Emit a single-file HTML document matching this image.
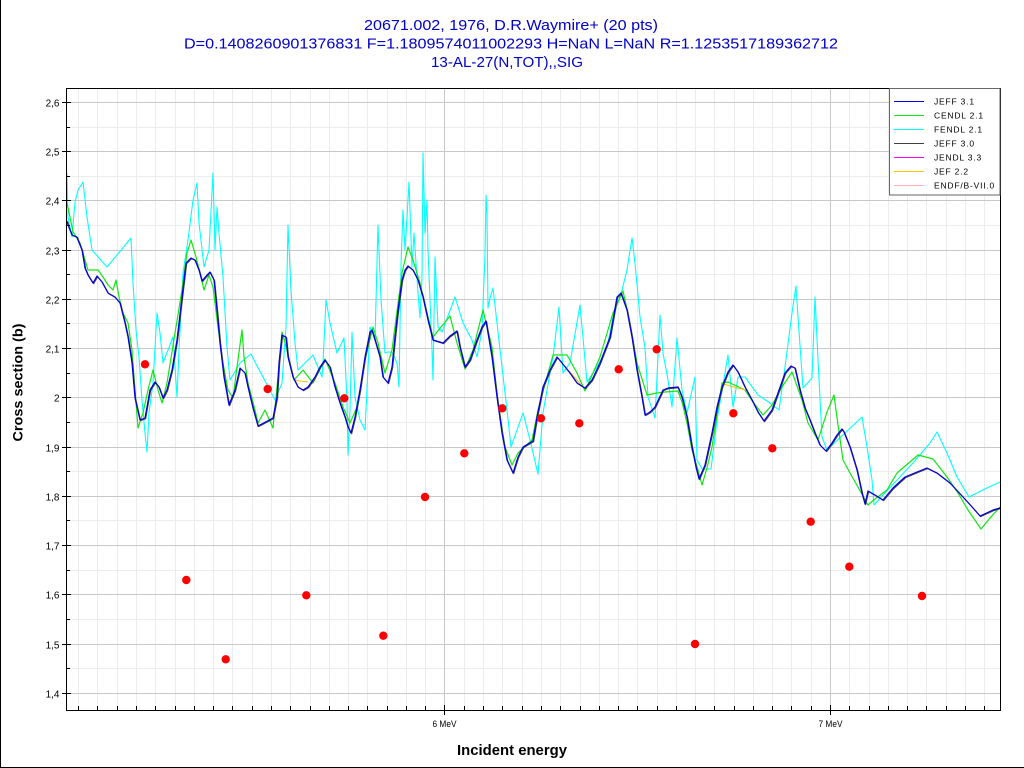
<!DOCTYPE html>
<html><head><meta charset="utf-8"><style>
html,body{margin:0;padding:0;background:#fff;}
svg{display:block;}
text{font-family:"Liberation Sans",Arial,sans-serif;}
</style></head><body>
<svg width="1024" height="768" viewBox="0 0 1024 768" xmlns="http://www.w3.org/2000/svg">
<rect x="0" y="0" width="1024" height="768" fill="#fff"/>
<line x1="0.5" y1="0" x2="0.5" y2="768" stroke="#000" stroke-width="1"/>
<line x1="0" y1="767.5" x2="1024" y2="767.5" stroke="#000" stroke-width="1"/>

<!-- title -->
<text x="511" y="30" font-size="15" fill="#0000c8" text-anchor="middle" textLength="294" lengthAdjust="spacingAndGlyphs">20671.002, 1976, D.R.Waymire+ (20 pts)</text>
<text x="511" y="48.5" font-size="15" fill="#0000c8" text-anchor="middle" textLength="654" lengthAdjust="spacingAndGlyphs">D=0.1408260901376831 F=1.1809574011002293 H=NaN L=NaN R=1.1253517189362712</text>
<text x="507" y="67" font-size="15" fill="#0000c8" text-anchor="middle" textLength="152" lengthAdjust="spacingAndGlyphs">13-AL-27(N,TOT),,SIG</text>

<!-- minor grid -->
<g stroke="#ececec" stroke-width="1" shape-rendering="crispEdges" fill="none">
<path d="M78.5 88V710M97.5 88V710M117.5 88V710M136.5 88V710M155.5 88V710M175.5 88V710M194.5 88V710M213.5 88V710M232.5 88V710M252.5 88V710M271.5 88V710M290.5 88V710M310.5 88V710M329.5 88V710M348.5 88V710M367.5 88V710M387.5 88V710M406.5 88V710M425.5 88V710M464.5 88V710M483.5 88V710M502.5 88V710M522.5 88V710M541.5 88V710M560.5 88V710M580.5 88V710M599.5 88V710M618.5 88V710M637.5 88V710M657.5 88V710M676.5 88V710M695.5 88V710M714.5 88V710M734.5 88V710M753.5 88V710M772.5 88V710M791.5 88V710M811.5 88V710M849.5 88V710M869.5 88V710M888.5 88V710M907.5 88V710M926.5 88V710M946.5 88V710M965.5 88V710M984.5 88V710"/>
<path d="M66 127.5H1000M66 176.5H1000M66 225.5H1000M66 274.5H1000M66 323.5H1000M66 373.5H1000M66 422.5H1000M66 471.5H1000M66 520.5H1000M66 570.5H1000M66 619.5H1000M66 668.5H1000"/>
</g>
<!-- major grid -->
<g stroke="#c8c8c8" stroke-width="1" shape-rendering="crispEdges" fill="none">
<path d="M444.5 88V710M830.5 88V710"/>
<path d="M66 102.5H1000M66 151.5H1000M66 200.5H1000M66 250.5H1000M66 299.5H1000M66 348.5H1000M66 397.5H1000M66 447.5H1000M66 496.5H1000M66 545.5H1000M66 594.5H1000M66 644.5H1000M66 693.5H1000"/>
</g>

<!-- series -->
<g fill="none" stroke-linejoin="round">
<polyline stroke="#00ffff" stroke-width="1.1" points="67,173 68,217 72,237 75,202 78,190 83,182 87,217 92,250 107,267 131,238 133,283 136,330 139,357 142,400 145,433 147,452 149,413 153,383 157,313 160,333 163,363 168,350 173,337 177,397 179,350 183,273 188,240 193,200 197,183 199,223 204,267 209,250 213,173 215,250 217,207 219,233 223,277 227,347 230,380 240,363 251,354 255,362 263,377 275,400 282,383 286,327 288,225 291,290 295,343 298,370 313,355 322,377 323,363 326,300 330,323 337,353 344,338 347,400 348,455 350,410 352,332 355,397 360,420 365,430 370,327 375,340 378,225 381,300 385,353 388,352 392,352 397,363 399,387 401,265 403,210 405,250 407,217 409,182 412,267 414,233 418,293 420,318 422,277 423,153 425,233 427,200 428,250 432,350 433,380 435,257 438,327 442,332 455,297 463,323 472,340 477,357 482,330 485,255 486,195 487,213 488,308 490,298 493,288 497,323 502,367 507,410 511,447 517,430 523,413 530,440 538,474 543,413 550,373 553,357 559,307 561,340 563,373 570,363 580,305 587,382 597,367 607,348 613,317 622,290 627,270 632,238 635,263 640,317 645,348 648,397 655,418 660,315 663,353 668,380 672,407 677,338 682,390 687,413 695,377 697,460 702,469 711,469 717,420 725,373 728,355 733,407 738,377 745,377 758,395 770,403 779,410 785,367 792,313 796,286 798,317 803,388 812,378 815,297 818,360 822,437 827,450 862,417 867,447 872,480 874,505 883,495 897,480 913,463 930,443 937,432 947,453 957,477 969,497 987,488 1000,482"/>
<polyline stroke="#11e611" stroke-width="1.2" points="67,203 70,217 73,232 80,243 88,270 98,270 103,277 108,285 113,290 116,280 119,297 123,313 128,323 132,350 135,390 138,428 143,413 148,390 153,370 158,390 162,403 167,383 175,333 182,290 187,253 191,240 196,257 200,273 204,290 209,275 213,287 218,327 223,363 228,390 233,398 237,367 242,330 244,357 248,383 255,410 258,423 265,410 273,428 278,377 282,332 287,350 294,380 303,370 313,383 325,359 335,383 343,407 350,423 357,407 365,360 373,327 378,343 385,373 392,350 402,273 408,247 413,260 420,283 428,317 433,337 450,316 457,343 465,369 473,350 483,310 486,323 492,347 498,403 505,447 512,465 518,453 532,440 538,410 547,377 553,355 567,355 577,373 585,391 600,357 613,313 623,291 630,323 637,363 647,395 657,393 665,392 678,391 682,402 687,423 692,450 698,470 702,485 707,468 712,447 722,383 728,382 745,390 753,402 763,415 772,405 782,387 792,372 802,400 808,423 818,440 827,412 834,395 838,425 843,460 850,473 858,487 868,505 875,499 887,490 897,473 918,455 933,459 947,477 958,493 968,510 981,529 990,518 1000,507"/>
<polyline stroke="#ffc000" stroke-width="1" points="293,380 308,382"/>
<polyline stroke="#ffc000" stroke-width="1" points="568,370 583,387"/>
<polyline stroke="#ffc000" stroke-width="1" points="723,384 745,390"/>
<polyline transform="translate(0.7,0.7)" stroke="#404040" stroke-width="1" points="67,221 68,225 72,235 77,237 78,240 82,250 85,268 88,275 93,283 97,276 102,282 108,293 115,297 120,303 125,323 128,337 132,363 135,398 140,420 145,418 150,390 155,382 159,387 163,398 167,390 172,370 177,340 182,297 186,263 191,258 195,260 199,270 202,281 207,275 210,272 214,280 217,310 220,343 224,377 229,405 235,390 240,368 245,373 248,387 253,408 258,426 273,418 277,397 279,363 282,335 286,337 288,357 293,377 298,387 303,390 308,387 315,377 320,367 325,360 330,367 335,387 340,403 345,417 348,427 351,433 355,417 360,390 365,357 370,332 372,330 375,340 380,357 383,377 388,383 392,367 395,337 398,310 402,280 405,270 408,266 413,270 418,280 423,297 428,320 433,340 443,343 450,336 457,331 460,347 465,367 470,360 477,340 482,327 486,321 488,333 492,357 497,397 502,433 507,460 513,473 518,457 523,447 533,441 537,417 543,387 550,370 557,357 562,363 570,373 577,383 585,388 592,380 600,363 610,337 617,297 621,293 627,310 632,337 637,370 642,397 645,415 650,412 655,407 663,390 668,388 678,387 682,397 687,417 692,447 696,467 699,479 705,465 712,433 717,407 722,387 728,372 733,365 738,372 745,387 752,400 758,412 764,421 772,410 778,393 785,373 791,366 795,368 800,390 805,408 810,420 815,433 820,445 826,451 832,443 837,435 842,429 844,432 850,447 857,470 862,493 865,504 868,491 875,495 883,500 893,488 905,477 917,472 927,468 937,473 950,483 963,497 973,508 980,516 993,510 1000,508"/>
<polyline stroke="#0000dd" stroke-width="1.2" points="67,221 68,225 72,235 77,237 78,240 82,250 85,268 88,275 93,283 97,276 102,282 108,293 115,297 120,303 125,323 128,337 132,363 135,398 140,420 145,418 150,390 155,382 159,387 163,398 167,390 172,370 177,340 182,297 186,263 191,258 195,260 199,270 202,281 207,275 210,272 214,280 217,310 220,343 224,377 229,405 235,390 240,368 245,373 248,387 253,408 258,426 273,418 277,397 279,363 282,335 286,337 288,357 293,377 298,387 303,390 308,387 315,377 320,367 325,360 330,367 335,387 340,403 345,417 348,427 351,433 355,417 360,390 365,357 370,332 372,330 375,340 380,357 383,377 388,383 392,367 395,337 398,310 402,280 405,270 408,266 413,270 418,280 423,297 428,320 433,340 443,343 450,336 457,331 460,347 465,367 470,360 477,340 482,327 486,321 488,333 492,357 497,397 502,433 507,460 513,473 518,457 523,447 533,441 537,417 543,387 550,370 557,357 562,363 570,373 577,383 585,388 592,380 600,363 610,337 617,297 621,293 627,310 632,337 637,370 642,397 645,415 650,412 655,407 663,390 668,388 678,387 682,397 687,417 692,447 696,467 699,479 705,465 712,433 717,407 722,387 728,372 733,365 738,372 745,387 752,400 758,412 764,421 772,410 778,393 785,373 791,366 795,368 800,390 805,408 810,420 815,433 820,445 826,451 832,443 837,435 842,429 844,432 850,447 857,470 862,493 865,504 868,491 875,495 883,500 893,488 905,477 917,472 927,468 937,473 950,483 963,497 973,508 980,516 993,510 1000,508"/>
</g>

<!-- data points -->
<g fill="#ff0000">
<circle cx="145" cy="364.3" r="4.2"/>
<circle cx="186.3" cy="580" r="4.2"/>
<circle cx="225.7" cy="659.3" r="4.2"/>
<circle cx="267.7" cy="389" r="4.2"/>
<circle cx="306.3" cy="595.3" r="4.2"/>
<circle cx="344.3" cy="398.3" r="4.2"/>
<circle cx="383.3" cy="635.7" r="4.2"/>
<circle cx="425" cy="497" r="4.2"/>
<circle cx="464.3" cy="453.3" r="4.2"/>
<circle cx="502.3" cy="408.3" r="4.2"/>
<circle cx="541" cy="418.3" r="4.2"/>
<circle cx="579.3" cy="423.3" r="4.2"/>
<circle cx="618.7" cy="369.3" r="4.2"/>
<circle cx="656.7" cy="349.3" r="4.2"/>
<circle cx="695" cy="644" r="4.2"/>
<circle cx="733.3" cy="413.3" r="4.2"/>
<circle cx="772.3" cy="448.3" r="4.2"/>
<circle cx="810.7" cy="521.7" r="4.2"/>
<circle cx="849.3" cy="566.7" r="4.2"/>
<circle cx="922" cy="596" r="4.2"/>
</g>

<!-- plot frame -->
<rect x="66.5" y="88.5" width="934" height="622" fill="none" stroke="#000" stroke-width="1" shape-rendering="crispEdges"/>

<!-- ticks -->
<g stroke="#000" stroke-width="1" shape-rendering="crispEdges" fill="none">
<path d="M62 102.5H71M62 151.5H71M62 200.5H71M62 250.5H71M62 299.5H71M62 348.5H71M62 397.5H71M62 447.5H71M62 496.5H71M62 545.5H71M62 594.5H71M62 644.5H71M62 693.5H71"/>
<path d="M66 127.5H70M66 176.5H70M66 225.5H70M66 274.5H70M66 323.5H70M66 373.5H70M66 422.5H70M66 471.5H70M66 520.5H70M66 570.5H70M66 619.5H70M66 668.5H70"/>
<path d="M78.5 706V710M97.5 706V710M117.5 706V710M136.5 706V710M155.5 706V710M175.5 706V710M194.5 706V710M213.5 706V710M232.5 706V710M252.5 706V710M271.5 706V710M290.5 706V710M310.5 706V710M329.5 706V710M348.5 706V710M367.5 706V710M387.5 706V710M406.5 706V710M425.5 706V710M464.5 706V710M483.5 706V710M502.5 706V710M522.5 706V710M541.5 706V710M560.5 706V710M580.5 706V710M599.5 706V710M618.5 706V710M637.5 706V710M657.5 706V710M676.5 706V710M695.5 706V710M714.5 706V710M734.5 706V710M753.5 706V710M772.5 706V710M791.5 706V710M811.5 706V710M849.5 706V710M869.5 706V710M888.5 706V710M907.5 706V710M926.5 706V710M946.5 706V710M965.5 706V710M984.5 706V710"/>
<path d="M444.5 705V715M830.5 705V715"/>
</g>

<!-- y labels -->
<g font-size="10" fill="#000" text-anchor="end">
<text x="59.5" y="106.5">2,6</text>
<text x="59.5" y="155.5">2,5</text>
<text x="59.5" y="204.5">2,4</text>
<text x="59.5" y="254.5">2,3</text>
<text x="59.5" y="303.5">2,2</text>
<text x="59.5" y="352.5">2,1</text>
<text x="59.5" y="401.5">2</text>
<text x="59.5" y="451.5">1,9</text>
<text x="59.5" y="500.5">1,8</text>
<text x="59.5" y="549.5">1,7</text>
<text x="59.5" y="598.5">1,6</text>
<text x="59.5" y="648.5">1,5</text>
<text x="59.5" y="697.5">1,4</text>
</g>
<!-- x labels -->
<g font-size="9" fill="#000" text-anchor="middle">
<text x="444.5" y="727" textLength="24" lengthAdjust="spacingAndGlyphs">6 MeV</text>
<text x="830.5" y="727" textLength="24" lengthAdjust="spacingAndGlyphs">7 MeV</text>
</g>

<text x="512" y="755" font-size="15" font-weight="bold" fill="#000" text-anchor="middle" textLength="110" lengthAdjust="spacingAndGlyphs">Incident energy</text>
<text transform="translate(22.7,382.5) rotate(-90)" x="0" y="0" font-size="14" font-weight="bold" fill="#000" text-anchor="middle" textLength="118" lengthAdjust="spacingAndGlyphs">Cross section (b)</text>

<!-- legend -->
<rect x="889.5" y="88.5" width="110.5" height="106.5" fill="#fff" stroke="#666" stroke-width="1" shape-rendering="crispEdges"/>
<g stroke-width="1" shape-rendering="crispEdges">
<line x1="894" y1="101.5" x2="924" y2="101.5" stroke="#0000dd"/>
<line x1="894" y1="115.5" x2="924" y2="115.5" stroke="#11e611"/>
<line x1="894" y1="129.5" x2="924" y2="129.5" stroke="#00ffff"/>
<line x1="894" y1="143.5" x2="924" y2="143.5" stroke="#404040"/>
<line x1="894" y1="157.5" x2="924" y2="157.5" stroke="#ff00ff"/>
<line x1="894" y1="171.5" x2="924" y2="171.5" stroke="#ffc000"/>
<line x1="894" y1="185.5" x2="924" y2="185.5" stroke="#ffb0b0"/>
</g>
<g font-size="8.5" fill="#000" letter-spacing="0.8">
<text x="934" y="104.5">JEFF 3.1</text>
<text x="934" y="118.5">CENDL 2.1</text>
<text x="934" y="132.5">FENDL 2.1</text>
<text x="934" y="146.5">JEFF 3.0</text>
<text x="934" y="160.5">JENDL 3.3</text>
<text x="934" y="174.5">JEF 2.2</text>
<text x="934" y="188.5">ENDF/B-VII.0</text>
</g>
</svg>
</body></html>
